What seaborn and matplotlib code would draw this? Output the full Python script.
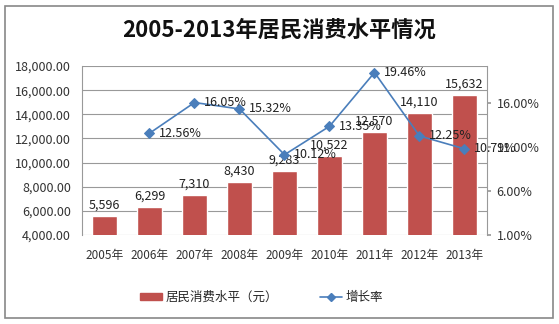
import matplotlib
matplotlib.use("Agg")
import matplotlib.pyplot as plt
import seaborn as sns
import pandas as pd
import numpy as np
from matplotlib.patches import Rectangle
from matplotlib.lines import Line2D

years = ["2005年", "2006年", "2007年", "2008年", "2009年", "2010年", "2011年", "2012年", "2013年"]
consumption = [5596, 6299, 7310, 8430, 9283, 10522, 12570, 14110, 15632]
growth = [None, 12.56, 16.05, 15.32, 10.12, 13.35, 19.46, 12.25, 10.79]
left_ticks = [4000, 6000, 8000, 10000, 12000, 14000, 16000, 18000]
right_ticks = [1, 6, 11, 16]

sns.set_theme(style="white")
plt.rcParams['font.family'] = ['Noto Sans CJK SC', 'DejaVu Sans']

fig = plt.figure(figsize=(5.59, 3.24), dpi=100)
ax = fig.add_axes([82/559, 1-235/324, (487-82)/559, (235-66)/324])

df = pd.DataFrame({"year": years, "val": consumption})
sns.barplot(data=df, x="year", y="val", color="#C0504D", width=0.55, ax=ax, saturation=1)
ax.set_ylim(4000, 18000)
ax.set_yticks(left_ticks)
ax.set_yticklabels([f"{t:,.2f}" for t in left_ticks], fontsize=9, color="#333333")
ax.set_xlabel(""); ax.set_ylabel("")
ax.tick_params(axis="x", labelsize=8.5, colors="#333333", pad=10, length=0)
ax.tick_params(axis="y", length=0, pad=8)
ax.yaxis.grid(True, color="#999999", linewidth=0.8)
ax.set_axisbelow(True)
for s in ["top", "bottom"]:
    ax.spines[s].set_visible(False)
for s in ["left", "right"]:
    ax.spines[s].set_color("#999999")
    ax.spines[s].set_linewidth(0.8)

for i, v in enumerate(consumption):
    ax.text(i, v + 350, f"{v:,}", ha="center", va="bottom", fontsize=9, color="#222222")

ax2 = ax.twinx()
gdf = pd.DataFrame({"x": list(range(len(years))), "g": growth}).dropna()
sns.lineplot(data=gdf, x="x", y="g", ax=ax2, color="#4A7EBB", marker="D", markersize=5,
             markeredgecolor="#4A7EBB", linewidth=1.2)
ax2.set_ylim(1, 20.2)
ax2.set_yticks(right_ticks)
ax2.set_yticklabels([f"{t:.2f}%" for t in right_ticks], fontsize=9, color="#333333")
ax2.set_ylabel(""); ax2.set_xlabel("")
ax2.tick_params(axis="y", length=3, color="#999999", pad=4, right=True)
for s in ax2.spines.values():
    s.set_visible(False)
for x, g in zip(gdf["x"], gdf["g"]):
    ax2.text(x + 0.2, g, f"{g:.2f}%", ha="left", va="center", fontsize=9, color="#222222")
ax.set_xlim(-0.5, len(years) - 0.5)
ax2.set_xlim(-0.5, len(years) - 0.5)

fig.text(0.5, 1 - 30/324, "2005-2013年居民消费水平情况", ha="center", va="center",
         fontsize=16, fontweight="bold", color="#111111")

handles = [Rectangle((0, 0), 1, 1, color="#C0504D"),
           Line2D([0], [0], color="#4A7EBB", marker="D", markersize=4, linewidth=1.2)]
fig.legend(handles, ["居民消费水平（元）", "增长率"], loc="center", bbox_to_anchor=(0.468, 1 - 297/324),
           ncol=2, frameon=False, fontsize=9, columnspacing=3.3, handlelength=1.8,
           handletextpad=0.3, handleheight=0.5)

fig.add_artist(Rectangle((5/559, 1 - 318/324), 548/559, 312/324, transform=fig.transFigure,
                         fill=False, edgecolor="#888888", linewidth=1.2))

fig.savefig("out.png", dpi=100)
